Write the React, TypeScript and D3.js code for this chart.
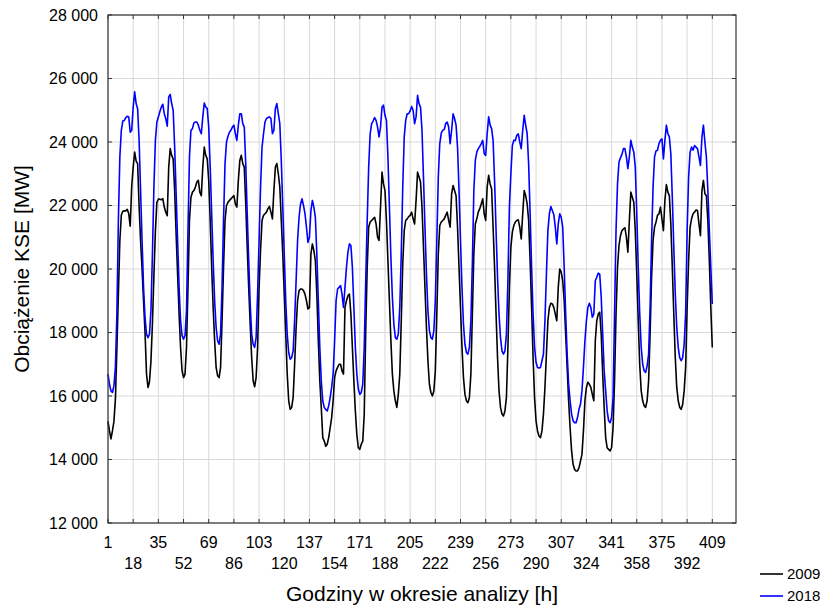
import React from "react";
import * as d3 from "d3";

const hours: number[] = Array.from({ length: 409 }, (_, i) => i + 1);

const series2009: number[] = [
  15200,14900,14650,14900,15200,15900,17500,19200,20900,21700,21820,21830,21830,21880,21740,21350,22600,23200,23680,23400,23320,21990,20880,20000,
  18990,18010,16700,16270,16450,17100,18300,19800,21200,22100,22200,22200,22180,22220,21950,21790,21680,23210,23790,23580,23470,22470,21100,19840,
  18580,17530,16800,16580,16690,17530,19420,21530,22260,22420,22470,22580,22740,22790,22420,22310,23210,23840,23580,23470,22790,21530,20050,18790,
  17740,16900,16640,16580,16900,18370,20050,21530,22000,22100,22160,22210,22260,22310,22050,21950,22790,23420,23580,23320,23210,22050,20690,19420,
  18260,17210,16480,16290,16580,17530,19420,20600,21530,21690,21740,21790,21900,21970,21790,21580,22470,23210,23320,23000,22580,21530,20470,19210,
  17950,16690,15850,15580,15640,15950,17000,18160,19000,19320,19370,19370,19320,19210,19000,18740,18790,20470,20790,20580,20260,19210,17740,16480,
  15640,14690,14580,14420,14480,14690,15000,15320,15850,16580,16790,16900,17000,17000,16790,16690,18790,19000,19160,19210,18580,17530,16480,15530,
  14790,14370,14320,14480,14580,15430,18060,20050,21320,21480,21530,21580,21630,21420,21000,20900,21950,23050,22680,22470,21530,20260,19000,17740,
  16690,16160,15850,15640,16050,16690,18370,20160,21210,21530,21580,21650,21690,21790,21580,21420,22160,23050,22900,22740,21950,20690,19420,18160,
  17110,16370,16110,16000,16160,16790,18580,20470,21370,21480,21530,21580,21690,21790,21530,21320,22370,22630,22470,22310,21320,20050,18790,17530,
  16580,16050,15850,15790,15950,16690,18580,20470,21420,21580,21790,21900,22050,22210,21740,21530,22580,22950,22680,22530,21320,20050,18580,17210,
  16160,15640,15430,15370,15530,15950,17530,19420,20690,21160,21370,21480,21530,21550,21320,20950,21740,22470,22310,22050,21530,20260,18790,17210,
  15950,15220,14900,14740,14690,14900,15430,16270,17320,18370,18790,18920,18900,18790,18580,18370,19420,20000,19900,19630,19000,17950,16900,15850,
  15000,14270,13850,13690,13640,13640,13740,13950,14160,14900,15850,16270,16430,16370,16270,16050,15850,17740,18370,18580,18640,17950,16690,15640,
  14690,14370,14320,14270,14370,15000,16480,18580,20050,20740,21050,21210,21260,21300,21000,20530,21530,22420,22260,22100,21210,19840,18370,17000,
  16160,15850,15690,15640,15850,16480,17950,19740,20900,21320,21480,21690,21740,21950,21580,21210,22160,22660,22420,22310,21420,20050,18580,17210,
  16270,15850,15640,15580,15740,16160,16900,18790,20260,21320,21580,21740,21790,21860,21840,21420,21050,22470,22790,22370,22310,21530,20260,18790,
  17530,
];

const series2018: number[] = [
  16690,16370,16160,16110,16320,16900,18580,21530,23530,24370,24660,24680,24770,24810,24790,24310,24370,25100,25580,25210,25050,24050,22470,20900,
  19420,18480,17950,17840,17950,18690,20470,22580,24050,24630,24790,24950,25100,25190,24890,24730,24500,25420,25500,25210,25000,23840,22370,20900,
  19420,18370,17900,17790,17900,18690,21210,23530,24370,24420,24600,24630,24630,24530,24370,24260,24790,25230,25100,25050,24470,23210,21740,20260,
  19000,18160,17740,17630,17950,19420,21530,23310,24000,24180,24310,24370,24470,24530,24260,24050,24530,24890,24890,24580,24470,23310,21740,20260,
  18900,17950,17630,17530,17840,19210,20900,22580,23840,24260,24630,24740,24770,24790,24740,24260,24370,25050,25210,24890,24580,23420,21950,20470,
  19000,17950,17370,17160,17210,17420,18370,19630,20900,21630,22050,22210,22000,21740,21320,20840,21000,21840,22160,21950,21630,20470,19000,17530,
  16480,15850,15640,15580,15530,15690,15950,16270,16690,17740,19000,19370,19420,19480,19210,18790,19420,20050,20530,20790,20740,20050,18790,17530,
  16690,16220,16050,16110,16370,17530,19630,21530,23210,24260,24580,24660,24770,24680,24470,24160,24470,25100,25160,24840,24680,23530,21950,20370,
  19110,18260,17840,17790,17950,18790,20470,22580,24160,24680,24890,24890,24980,25120,25000,24580,24790,25470,25210,25100,24370,22890,21320,19840,
  18690,18060,17840,17790,18060,19000,20900,22890,23950,24280,24370,24390,24580,24630,24470,23950,24370,24890,24740,24530,23840,22470,20900,19420,
  18260,17630,17370,17320,17530,18370,20160,22470,23420,23680,23790,23860,23950,24050,23630,23580,24260,24790,24530,24420,24050,22790,21210,19740,
  18580,17840,17420,17320,17420,17950,19630,21950,23000,23890,24050,24050,24210,24260,24000,23790,24370,24840,24530,24260,23310,21740,20050,18580,
  17530,17060,16900,16880,16900,17110,17320,18370,19840,21210,21740,21970,21840,21710,21320,20790,21420,21740,21630,21320,20050,18580,17320,16370,
  15850,15430,15220,15160,15160,15320,15580,15740,16160,16900,17740,18370,18790,18920,18790,18480,18580,19630,19740,19870,19840,19110,17950,16790,
  16160,15530,15220,15160,15320,15950,18580,21210,22680,23370,23500,23610,23790,23790,23530,23160,23530,24050,23840,23680,23210,21740,20050,18580,
  17530,17000,16790,16740,16950,17320,18790,20900,22580,23530,23720,23740,23950,24050,24100,23470,24050,24530,24260,24160,23630,22260,20690,19210,
  18160,17530,17210,17110,17210,17630,18580,21210,22890,23680,23840,23740,23890,23840,23790,23530,23260,24160,24530,24000,23530,22470,21210,20050,
  18900,
];

const xTicks: number[] = [1,18,35,52,69,86,103,120,137,154,171,188,205,222,239,256,273,290,307,324,341,358,375,392,409];
const yTicks: number[] = [12000,14000,16000,18000,20000,22000,24000,26000,28000];
const seriesNames: string[] = ["2009", "2018"];
const seriesColors: string[] = ["#000000", "#0000ff"];

const W = 822, H = 607;
const M = { left: 108, right: 736, top: 15, bottom: 523 };
const FONT = "'Liberation Sans', Arial, sans-serif";

export default function App() {
  const x = d3.scaleLinear().domain([1, 425]).range([M.left, M.right]);
  const y = d3.scaleLinear().domain([12000, 28000]).range([M.bottom, M.top]);
  const fmt = (v: number) => d3.format(",")(v).replace(/,/g, " ");
  const line = d3
    .line<number>()
    .x((_, i) => x(hours[i]))
    .y((d) => y(d));
  const all = [series2009, series2018];
  const tickLen = 4;
  return (
    <svg
      width={W}
      height={H}
      style={{ position: "absolute", left: 0, top: 0, background: "#fff" }}
      fontFamily={FONT}
    >
      <rect x={0} y={0} width={W} height={H} fill="#fff" />
      {xTicks.map((t) => (
        <line key={"gx" + t} x1={x(t)} x2={x(t)} y1={M.top} y2={M.bottom} stroke="#d9d9d9" strokeWidth={1} />
      ))}
      {yTicks.map((t) => (
        <line key={"gy" + t} x1={M.left} x2={M.right} y1={y(t)} y2={y(t)} stroke="#d9d9d9" strokeWidth={1} />
      ))}
      {all.map((s, k) => (
        <path key={"s" + k} d={line(s) || ""} fill="none" stroke={seriesColors[k]} strokeWidth={1.6} strokeLinejoin="round" />
      ))}
      {xTicks.map((t) => (
        <g key={"tx" + t}>
          <line x1={x(t)} x2={x(t)} y1={M.bottom} y2={M.bottom - tickLen} stroke="#333" />
          <line x1={x(t)} x2={x(t)} y1={M.top} y2={M.top + tickLen} stroke="#333" />
        </g>
      ))}
      {yTicks.map((t) => (
        <g key={"ty" + t}>
          <line x1={M.left} x2={M.left + tickLen} y1={y(t)} y2={y(t)} stroke="#333" />
          <line x1={M.right} x2={M.right - tickLen} y1={y(t)} y2={y(t)} stroke="#333" />
        </g>
      ))}
      <rect x={M.left} y={M.top} width={M.right - M.left} height={M.bottom - M.top} fill="none" stroke="#333" strokeWidth={1.2} />
      {yTicks.map((t) => (
        <text key={"ly" + t} x={98} y={y(t)} dy="0.35em" textAnchor="end" fontSize={16} fill="#000">
          {fmt(t)}
        </text>
      ))}
      {xTicks.map((t, i) => (
        <text key={"lx" + t} x={x(t)} y={i % 2 === 0 ? 548 : 569} textAnchor="middle" fontSize={16} fill="#000">
          {t}
        </text>
      ))}
      <text x={(M.left + M.right) / 2} y={601} textAnchor="middle" fontSize={21} fill="#000">
        Godziny w okresie analizy [h]
      </text>
      <text transform={`translate(29, ${(M.top + M.bottom) / 2}) rotate(-90)`} textAnchor="middle" fontSize={21} fill="#000">
        Obciążenie KSE [MW]
      </text>
      {seriesNames.map((n, k) => (
        <g key={"lg" + n}>
          <line x1={760} x2={783} y1={574 + k * 22} y2={574 + k * 22} stroke={seriesColors[k]} strokeWidth={1.6} />
          <text x={787} y={574 + k * 22} dy="0.35em" fontSize={15} fill="#000">
            {n}
          </text>
        </g>
      ))}
    </svg>
  );
}
